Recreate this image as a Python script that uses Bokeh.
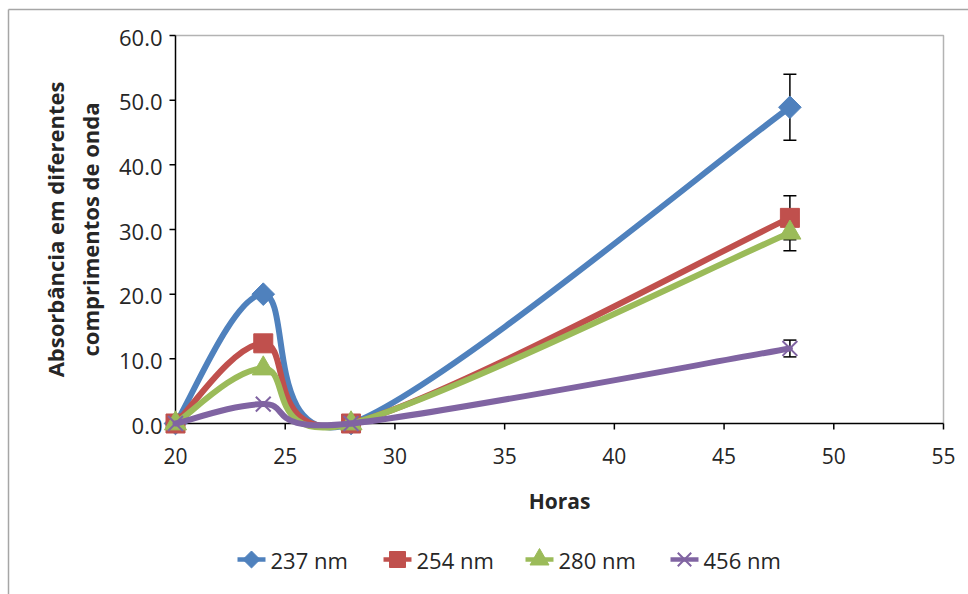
import math
import numpy as np
from bokeh.plotting import figure
from bokeh.core.properties import value
from bokeh.models import ColumnDataSource, Whisker, TeeHead
from bokeh.embed import file_html
from bokeh.resources import INLINE

# ---- data -------------------------------------------------------------
horas = [20, 24, 28, 48]
series_names = ["237 nm", "254 nm", "280 nm", "456 nm"]
abs_237 = [0.0, 20.0, 0.0, 48.9]
abs_254 = [0.0, 12.4, 0.0, 31.8]
abs_280 = [0.0, 8.5, 0.0, 29.5]
abs_456 = [0.0, 3.0, 0.0, 11.6]
err_237 = [0.0, 0.0, 0.0, 5.1]
err_254 = [0.0, 0.0, 0.0, 3.4]
err_280 = [0.0, 0.0, 0.0, 2.8]
err_456 = [0.0, 0.0, 0.0, 1.3]

x_ticks = [20, 25, 30, 35, 40, 45, 50, 55]
x_tick_labels = ["20", "25", "30", "35", "40", "45", "50", "55"]
y_ticks = [0, 10, 20, 30, 40, 50, 60]
y_tick_labels = ["0.0", "10.0", "20.0", "30.0", "40.0", "50.0", "60.0"]
x_title = "Horas"
y_title = ["Absorbância em diferentes", "comprimentos de onda"]

# ---- page geometry (pixels) -------------------------------------------
W, H = 968, 594
AX_L, AX_R = 175, 943        # pixel columns of x = 20 and x = 55
AX_B, AX_T = 423, 35         # pixel rows of y = 0 and y = 60
X_LO, X_HI = x_ticks[0], x_ticks[-1]
Y_LO, Y_HI = y_ticks[0], y_ticks[-1]
SX = (AX_R - AX_L) / (X_HI - X_LO)
SY = (AX_B - AX_T) / (Y_HI - Y_LO)


def px_x(px):
    return X_LO + (px - AX_L) / SX


def px_y(py):
    return Y_LO + (AX_B - py) / SY


FONT = "Open Sans"
TEXT = "#262626"
colors = ["#4F81BD", "#C0504D", "#9BBB59", "#8064A2"]
# (marker, angle, size in plot, size in legend)
markers = [("square", math.pi / 4, 16, 12), ("square", 0, 19, 16),
           ("triangle", 0, 22, 19), ("x", 0, 21, 19)]
legend_centers_px = [251, 397, 539, 684]   # legend key centres along the legend row
LEGEND_ROW = 559
KEY_HALF = 14

# the plotting frame spans the whole page; the axes are drawn inside it
p = figure(width=W, height=H, x_range=(px_x(0), px_x(W)), y_range=(px_y(H), px_y(0)),
           output_backend="svg", toolbar_location=None,
           x_axis_location=None, y_axis_location=None, min_border=0)
p.grid.visible = False
p.outline_line_color = None
p.background_fill_color = "white"
p.border_fill_color = "white"

# chart-area frame (top and left edges)
p.line([px_x(8), px_x(W + 10)], [px_y(9), px_y(9)], line_color="#A6A6A6", line_width=1.5)
p.line([px_x(8), px_x(8)], [px_y(9), px_y(H + 10)], line_color="#A6A6A6", line_width=1.5)

# plot-area border on the top and right
p.line([X_LO, X_HI, X_HI], [Y_HI, Y_HI, Y_LO], line_color="#B3B3B3", line_width=1.5)

# axis lines and ticks
p.line([X_LO, X_HI], [Y_LO, Y_LO], line_color="black", line_width=1.5)
p.line([X_LO, X_LO], [Y_LO, Y_HI], line_color="black", line_width=1.5)
p.segment(x0=x_ticks, y0=[Y_LO] * len(x_ticks), x1=x_ticks,
          y1=[px_y(AX_B + 6)] * len(x_ticks), line_color="black", line_width=1.5)
p.segment(x0=[X_LO] * len(y_ticks), y0=y_ticks, x1=[px_x(AX_L - 6)] * len(y_ticks),
          y1=y_ticks, line_color="black", line_width=1.5)

# tick labels
p.text(x=x_ticks, y=[Y_LO] * len(x_ticks), text=x_tick_labels, y_offset=32,
       text_align="center", text_baseline="middle", text_font=value(FONT),
       text_font_size="21px", text_color=TEXT)
p.text(x=[X_LO] * len(y_ticks), y=y_ticks, text=y_tick_labels, x_offset=-13, y_offset=2,
       text_align="right", text_baseline="middle", text_font=value(FONT),
       text_font_size="22px", text_color=TEXT)

# axis titles
p.text(x=[(X_LO + X_HI) / 2], y=[Y_LO], text=[x_title], y_offset=77,
       text_align="center", text_baseline="middle", text_font=value(FONT),
       text_font_size="21px", text_font_style="bold", text_color=TEXT)
p.text(x=[px_x(54), px_x(89)], y=[(Y_LO + Y_HI) / 2] * 2, text=y_title, angle=math.pi / 2,
       text_align="center", text_baseline="middle", text_font=value(FONT),
       text_font_size="22px", text_font_style="bold", text_color=TEXT)


def smooth_segments(xs, ys):
    """Cubic Bezier pieces of a Catmull-Rom style smoothed line."""
    pts = np.column_stack([xs, ys]).astype(float)
    n = len(pts)
    out = {k: [] for k in ("x0", "y0", "x1", "y1", "cx0", "cy0", "cx1", "cy1")}
    for i in range(n - 1):
        p0 = pts[i - 1] if i > 0 else pts[i]
        p1 = pts[i]
        p2 = pts[i + 1]
        p3 = pts[i + 2] if i + 2 < n else pts[i + 1]
        c1 = p1 + (p2 - p0) / 6.0
        c2 = p2 - (p3 - p1) / 6.0
        out["x0"].append(p1[0]); out["y0"].append(p1[1])
        out["x1"].append(p2[0]); out["y1"].append(p2[1])
        out["cx0"].append(c1[0]); out["cy0"].append(c1[1])
        out["cx1"].append(c2[0]); out["cy1"].append(c2[1])
    return out


all_vals = [abs_237, abs_254, abs_280, abs_456]
all_errs = [err_237, err_254, err_280, err_456]

# error bars (under the markers)
for vals, errs in zip(all_vals, all_errs):
    xs = [x for x, e in zip(horas, errs) if e > 0]
    up = [v + e for v, e in zip(vals, errs) if e > 0]
    lo = [v - e for v, e in zip(vals, errs) if e > 0]
    src = ColumnDataSource(dict(x=xs, upper=up, lower=lo))
    w = Whisker(source=src, base="x", upper="upper", lower="lower",
                line_color="black", line_width=1.5,
                upper_head=TeeHead(size=13, line_color="black", line_width=1.5),
                lower_head=TeeHead(size=13, line_color="black", line_width=1.5))
    p.add_layout(w)


def draw_marker(xs, ys, col, mk, ang, sz, lw):
    if mk == "x":
        p.scatter(xs, ys, marker=mk, size=sz, line_color=col, line_width=lw, angle=ang)
    else:
        p.scatter(xs, ys, marker=mk, size=sz, fill_color=col, line_color=col, angle=ang)


for name, vals, col, (mk, ang, sz, lsz), cx in zip(series_names, all_vals, colors,
                                                   markers, legend_centers_px):
    seg = smooth_segments(horas, vals)
    p.bezier(x0="x0", y0="y0", x1="x1", y1="y1", cx0="cx0", cy0="cy0",
             cx1="cx1", cy1="cy1", source=ColumnDataSource(seg),
             line_color=col, line_width=6, line_cap="round")
    draw_marker(horas, vals, col, mk, ang, sz, 2)

    # legend key: short line with the series marker, then its name
    ly = px_y(LEGEND_ROW)
    p.line([px_x(cx - KEY_HALF), px_x(cx + KEY_HALF)], [ly, ly], line_color=col, line_width=4.5)
    draw_marker([px_x(cx)], [ly], col, mk, ang, lsz, 2)
    p.text(x=[px_x(cx + KEY_HALF + 5)], y=[ly], text=[name], text_align="left",
           text_baseline="middle", text_font=value(FONT), text_font_size="22px",
           text_color=TEXT)

open("out.html", "w").write(file_html(p, INLINE))
